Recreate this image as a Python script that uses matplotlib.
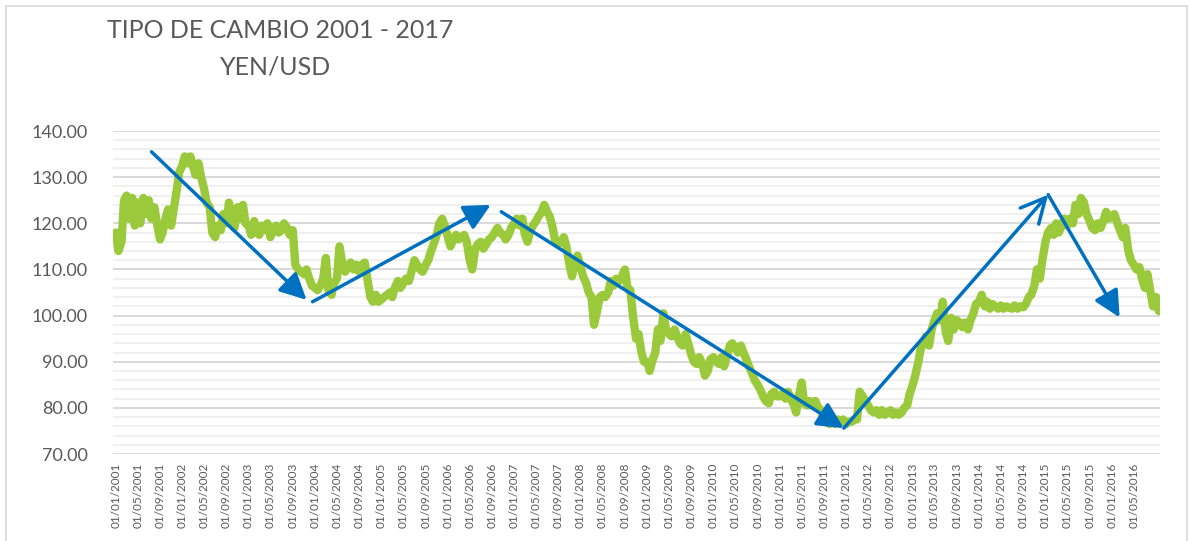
import matplotlib
matplotlib.use("Agg")
import matplotlib.pyplot as plt
import matplotlib.dates as mdates
from matplotlib.patches import Rectangle
import numpy as np
import pandas as pd


# Semi-monthly YEN/USD readings (1st and 15th of each month)
yen_2001 = [118, 114, 116, 125, 126, 121, 125.5, 119.5, 124.5, 120, 125.5, 122,
            125, 121, 123.5, 120, 116.5, 118, 121, 123, 119.5, 123, 127, 131]
yen_2002 = [132.5, 134.5, 133, 134.5, 132.5, 130.5, 133, 130, 127.5, 124.5, 123.5, 118,
            117, 119.5, 118.5, 122, 120, 124.5, 121, 119, 123.5, 121, 124, 120]
yen_2003 = [119.5, 117.5, 120.5, 118, 117.5, 119.5, 118.5, 120, 117, 118.5, 119.5, 118,
            118.5, 120, 119, 117.5, 118.5, 111, 110, 109.5, 109, 110, 108, 106.5]
yen_2004 = [106, 105.5, 106.5, 108, 112.5, 105.5, 104.5, 107, 108, 115, 111, 109.5,
            110.5, 111.5, 110, 111, 109.5, 111, 111.5, 108, 104, 103, 104.5, 103]
yen_2005 = [103.5, 104, 104.5, 105, 104, 106, 107.5, 106, 107, 108, 107.5, 109.5,
            112, 111, 110, 109.5, 111, 112, 114, 115.5, 117.5, 120, 121, 119.5]
yen_2006 = [117, 115, 116.5, 117.5, 116.5, 117, 117.5, 116, 112, 110, 114.5, 115.5,
            116, 114.5, 115.5, 116.5, 117, 118, 119, 118, 117.5, 116.5, 117.5, 119]
yen_2007 = [120, 121, 119.5, 121, 117.5, 116, 118.5, 119.5, 120.5, 121.5, 122.5, 124,
            122.5, 121.5, 119, 116, 115.5, 116, 117, 115, 111, 108.5, 111.5, 113]
yen_2008 = [110.5, 108.5, 107, 105, 104, 98, 101, 104, 104.5, 104, 105, 107.5,
            106.5, 108, 107.5, 108.5, 110, 106, 105.5, 100, 95, 96, 92, 90]
yen_2009 = [90, 88, 90.5, 92, 97, 94.5, 100.5, 97, 96, 95.5, 97, 95.5,
            94, 93.5, 96, 94, 91.5, 90, 89.5, 91, 89.5, 87, 88, 90.5]
yen_2010 = [91, 90, 89.5, 91, 89, 91, 93.5, 94, 93, 92, 93.5, 92,
            90.5, 89, 87.5, 86, 85, 84, 82.5, 81.5, 81, 83, 83.5, 82.5]
yen_2011 = [82.5, 83, 82, 83.5, 82, 81, 79, 82.5, 85.5, 81, 80.5, 81.5,
            80.5, 81.5, 80, 79.5, 77.5, 77, 76.5, 77, 76.5, 77.5, 77, 77.5]
yen_2012 = [76.5, 77, 77, 77.5, 77.5, 83.5, 82.5, 81.5, 80.5, 79.5, 79, 79.5,
            78.5, 79.5, 78.5, 79, 79.5, 78.5, 79, 78.5, 79, 80, 80.5, 83]
yen_2013 = [85, 87, 90, 93, 94, 95.5, 93.5, 97, 99, 100.5, 99, 103,
            96.5, 94.5, 99.5, 97, 99, 98.5, 97.5, 98.5, 97, 99, 100.5, 102.5]
yen_2014 = [103, 104.5, 102, 103, 101.5, 102.5, 102, 101.5, 102.2, 101.5, 102, 101.7,
            101.5, 102.2, 101.5, 102, 101.8, 102.5, 104, 104.5, 106.5, 110, 108, 112]
yen_2015 = [116, 118, 119, 117.5, 120, 118, 119.5, 121, 119.5, 121, 120, 124,
            122, 125.5, 124.5, 122, 120.5, 119, 118.5, 120, 119, 120.5, 122.5, 121]
yen_2016 = [121.5, 122, 120, 118.5, 117, 119, 114, 112, 111, 110, 110.5, 108,
            106, 109, 105, 102, 104, 101]

# Trend arrows drawn over the series: (start date, start value, end date, end value)
arrow_starts = [("2001-07-16", 135.5), ("2003-12-19", 103.0), ("2006-10-22", 122.5),
                ("2011-12-19", 75.6), ("2015-01-16", 126.2)]
arrow_ends = [("2003-11-16", 103.4), ("2006-08-25", 124.0), ("2011-12-19", 75.6),
              ("2015-01-16", 126.2), ("2016-02-13", 99.6)]
arrow_heads = ["filled", "filled", "filled", "open", "filled"]

TITLE = "TIPO DE CAMBIO 2001 - 2017"
SUBTITLE = "YEN/USD"

GREEN = "#9ACA3C"
BLUE = "#0070C0"
TEXT = "#595959"
FONT = ["Lato", "DejaVu Sans"]


def build_series():
    values = np.concatenate([yen_2001, yen_2002, yen_2003, yen_2004, yen_2005, yen_2006,
                             yen_2007, yen_2008, yen_2009, yen_2010, yen_2011, yen_2012,
                             yen_2013, yen_2014, yen_2015, yen_2016])
    dates = pd.date_range("2001-01-01", periods=len(values), freq="SMS")
    return dates, values


def main():
    plt.rcParams["font.family"] = FONT
    dates, values = build_series()

    fig = plt.figure(figsize=(11.89, 5.41), dpi=100)
    ax = fig.add_axes([0.0950, 0.1608, 0.8806, 0.5970])

    # light frame round the whole chart
    fig.patches.append(Rectangle((0.005, -0.02), 0.993, 1.009, transform=fig.transFigure,
                                 fill=False, edgecolor="#d9d9d9", lw=1.2))

    # gridlines: major every 10, minor every 2
    ax.set_ylim(70, 140)
    ax.set_yticks(np.arange(70, 141, 10))
    ax.set_yticks(np.arange(70, 141, 2), minor=True)
    ax.yaxis.set_major_formatter(matplotlib.ticker.FormatStrFormatter("%.2f"))
    ax.grid(axis="y", which="minor", color="#eeeeee", lw=1.3, zorder=0)
    ax.grid(axis="y", which="major", color="#d9d9d9", lw=1.4, zorder=0)
    ax.set_axisbelow(True)

    ax.plot(dates, values, color=GREEN, lw=6, solid_joinstyle="round",
            solid_capstyle="round", zorder=2)

    # trend arrows
    for (d0, v0), (d1, v1), head in zip(arrow_starts, arrow_ends, arrow_heads):
        if head == "filled":
            style = "-|>,head_length=1.0,head_width=0.5"
        else:
            style = "->,head_length=1.1,head_width=0.55"
        ax.annotate("", xy=(pd.Timestamp(d1), v1), xytext=(pd.Timestamp(d0), v0),
                    arrowprops=dict(arrowstyle=style, color=BLUE, lw=2.5,
                                    mutation_scale=16, shrinkA=0, shrinkB=0),
                    zorder=3)

    # x axis: one label every four months
    ax.set_xlim(pd.Timestamp("2000-12-16"), pd.Timestamp("2016-09-22"))
    ax.set_xticks(pd.date_range("2001-01-01", "2016-05-01", freq="4MS"))
    ax.xaxis.set_major_formatter(mdates.DateFormatter("%d/%m/%Y"))
    ax.tick_params(axis="x", length=0, pad=6, labelsize=8.5, labelcolor=TEXT,
                   labelrotation=90)
    ax.tick_params(axis="y", which="both", length=0, pad=18, labelsize=13,
                   labelcolor=TEXT)

    for side in ["top", "right", "left", "bottom"]:
        ax.spines[side].set_visible(False)

    fig.text(280 / 1189, 1 - 30 / 541, TITLE, ha="center", va="center",
             fontsize=18, color=TEXT)
    fig.text(276 / 1189, 1 - 67 / 541, SUBTITLE, ha="center", va="center",
             fontsize=18, color=TEXT)

    plt.savefig("out.png", dpi=100)


if __name__ == "__main__":
    main()
